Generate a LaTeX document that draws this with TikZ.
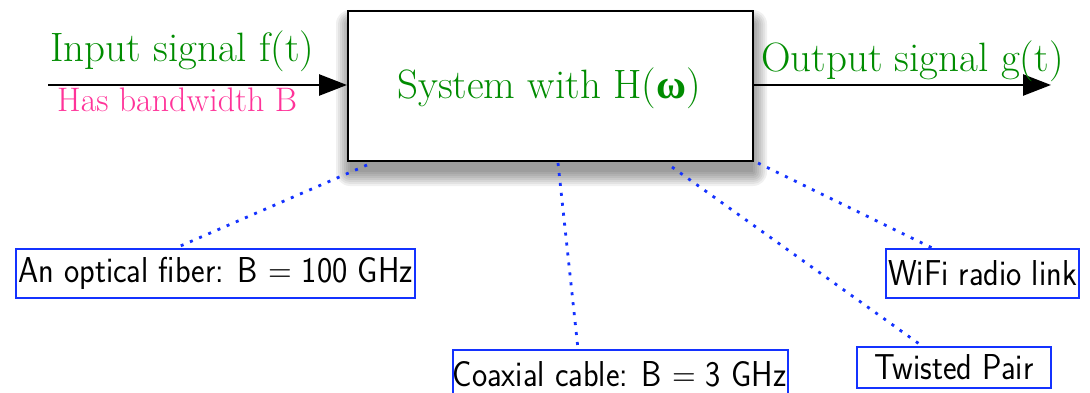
\documentclass[tikz,border=0pt]{standalone}
\usepackage{fontspec}
\usetikzlibrary{arrows.meta}
\newfontfamily\grkfont{Liberation Serif}
\definecolor{sgreen}{RGB}{0,140,0}
\definecolor{spink}{RGB}{255,51,153}
\definecolor{sblue}{RGB}{20,50,255}
\newcommand{\cond}[1]{\scalebox{0.9}[1]{#1}}
\tikzset{
  greentext/.style={text=sgreen, inner sep=0pt, font=\fontsize{41}{45}\selectfont},
  pinktext/.style={text=spink, inner sep=0pt, font=\fontsize{34}{38}\selectfont},
  mediabox/.style={draw=sblue, line width=2.2pt, inner sep=0pt, font=\sffamily\fontsize{36}{40}\selectfont, text=black},
  sigarrow/.style={line width=2.6pt, -{Triangle[length=28pt,width=21pt]}},
  dotlink/.style={draw=sblue, line width=2.8pt, dash pattern=on 3pt off 7pt}
}
\begin{document}
\begin{tikzpicture}[x=1pt,y=-1pt]
\useasboundingbox (0,0) rectangle (1090,393);
% shadow
\foreach \k in {0,2,...,14}{
  \fill[black, opacity=0.06, rounded corners=\k pt] (350-\k,24-\k) rectangle (753+\k,172+\k);
}
\node[draw=black, fill=white, line width=2.6pt, minimum width=405pt, minimum height=150pt, inner sep=0pt] (sys) at (550.5,86) {};
\node[text=sgreen, inner sep=0pt, font=\fontsize{41}{45}\selectfont, anchor=base] (syst) at (549,99) {System with H({\grkfont\bfseries ω})};
% input
\coordinate (inS) at (48,85);
\coordinate (inE) at (347,85);
\draw[sigarrow] (inS) -- (inE);
\node[greentext, anchor=base west] (inlab) at (50,62) {Input signal f(t)};
\node[pinktext, anchor=base west] (bwlab) at (57,112) {Has bandwidth B};
% output
\coordinate (outS) at (753,85);
\coordinate (outE) at (1051,85);
\draw[sigarrow] (outS) -- (outE);
\node[greentext, anchor=base west] (outlab) at (761,72) {Output signal g(t)};
% media boxes
\node[mediabox, minimum width=399pt, minimum height=49pt] (fib) at (215.5,273.5) {\cond{An optical fiber: B = 100 GHz}};
\node[mediabox, minimum width=335pt, minimum height=52pt, anchor=north west] (coax) at (452,349) {};
\node[inner sep=0pt, font=\sffamily\fontsize{36}{40}\selectfont, anchor=base] (coaxt) at (619.5,386) {\cond{Coaxial cable: B = 3 GHz}};
\node[mediabox, minimum width=193pt, minimum height=49pt] (wifi) at (982.5,273.5) {\cond{WiFi radio link}};
\node[mediabox, minimum width=194pt, minimum height=41pt] (tp) at (954,367.5) {\cond{Twisted Pair}};
% links
\coordinate (s1) at (367,165);
\coordinate (s2) at (558,163);
\coordinate (s3) at (672,167);
\coordinate (s4) at (758,163);
\draw[dotlink] (s1) -- (fib.north -| 176,0);
\draw[dotlink] (s2) -- (coax.north -| 578,0);
\draw[dotlink] (s3) -- (tp.north -| 922,0);
\draw[dotlink] (s4) -- (wifi.north -| 932,0);
\end{tikzpicture}
\end{document}
